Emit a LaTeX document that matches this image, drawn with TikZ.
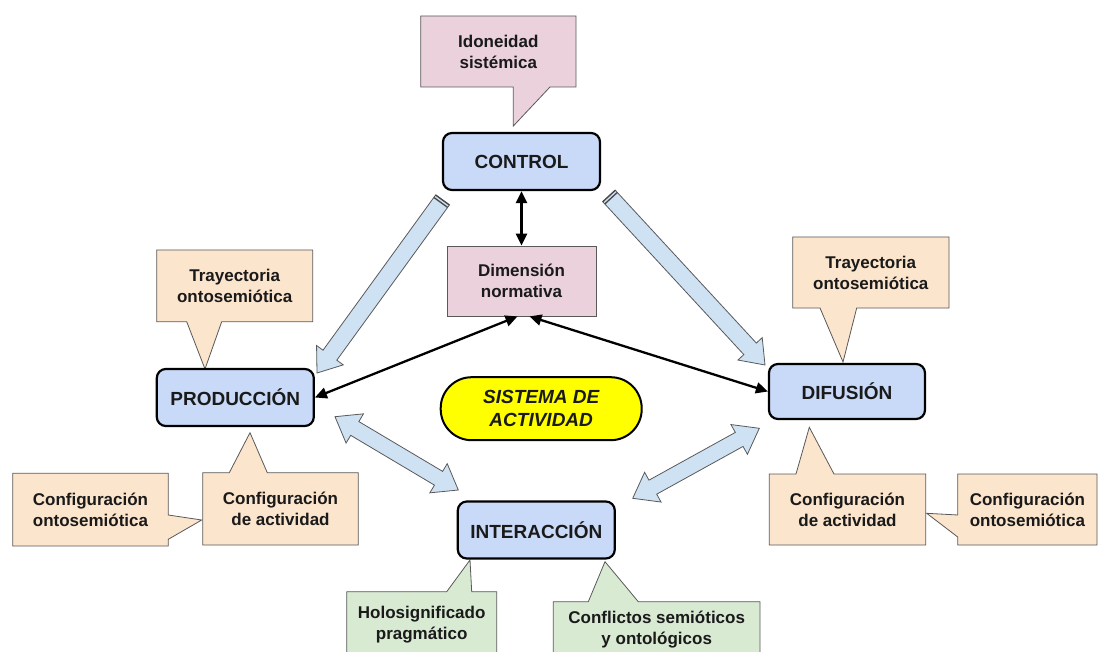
\documentclass[tikz,border=0pt]{standalone}
\usepackage{fontspec}
\setmainfont{Liberation Sans}
\usetikzlibrary{calc,arrows.meta}
\definecolor{boxblue}{HTML}{C9DAF8}
\definecolor{pinkbox}{HTML}{EAD1DC}
\definecolor{peach}{HTML}{FCE5CD}
\definecolor{greenbox}{HTML}{D9EAD3}
\definecolor{fatblue}{HTML}{CFE2F3}
\definecolor{cline}{HTML}{595959}
\definecolor{sysyellow}{HTML}{FFFF00}
\definecolor{txt}{HTML}{1A1A1A}
\newcommand\fatarrow[5]{%
  \path ($(#2)!#5!(#1)$) coordinate (fah);
  \draw[fatstyle] ($(#1)!#3!90:(#2)$) -- ($(fah)!#3!90:(#2)$) -- ($(fah)!#4!90:(#2)$) -- (#2)
     -- ($(fah)!#4!-90:(#2)$) -- ($(fah)!#3!-90:(#2)$) -- ($(#1)!#3!-90:(#2)$) -- cycle;
  \draw[stripe] ($(#1)!#3!90:(#2)$) -- ($(#1)!#3!-90:(#2)$);
  \draw[stripe] ($($(#1)!3pt!(#2)$)!#3!90:(#2)$) -- ($($(#1)!3pt!(#2)$)!#3!-90:(#2)$);
}
\newcommand\fatdarrow[5]{%
  \path ($(#1)!#5!(#2)$) coordinate (fha) ($(#2)!#5!(#1)$) coordinate (fhb);
  \draw[fatstyle] (#1) -- ($(fha)!#4!90:(#2)$) -- ($(fha)!#3!90:(#2)$) -- ($(fhb)!#3!90:(#2)$)
     -- ($(fhb)!#4!90:(#2)$) -- (#2) -- ($(fhb)!#4!-90:(#2)$) -- ($(fhb)!#3!-90:(#2)$)
     -- ($(fha)!#3!-90:(#2)$) -- ($(fha)!#4!-90:(#2)$) -- cycle;
}
\begin{document}
\begin{tikzpicture}[x=1pt,y=-1pt,
  mainbox/.style={draw=black, line width=2.2pt, rounded corners=9pt, fill=boxblue,
     font=\fontsize{19}{23}\selectfont\bfseries, text=txt, minimum width=157pt,
     minimum height=57pt, inner sep=0pt},
  callshape/.style={draw=cline, line width=0.8pt},
  ctext/.style={font=\fontsize{17}{21}\selectfont\bfseries, align=center, inner sep=0pt, text=txt},
  fatstyle/.style={fill=fatblue, draw=cline, line width=0.8pt, line join=miter},
  stripe/.style={draw=cline!80!black, line width=1.3pt},
  blackarrow/.style={line width=2.3pt, {Triangle[length=12pt,width=11pt]}-{Triangle[length=12pt,width=11pt]}}
]
\useasboundingbox (0,0) rectangle (1100,652);
\clip (0,0) rectangle (1100,652);
\fill[white] (0,0) rectangle (1100,652);

% callouts
\draw[callshape, fill=pinkbox] (420.7,16) -- (576,16) -- (576,87) -- (550,87) -- (513.3,126) -- (513.3,87) -- (420.7,87) -- cycle;
\node[ctext] (ido) at (498.3,52) {Idoneidad\\sistémica};

\draw[callshape, fill=peach] (156.7,250) -- (312.7,250) -- (312.7,321.7) -- (221.7,321.7) -- (205,369) -- (186.7,321.7) -- (156.7,321.7) -- cycle;
\node[ctext] (tray1) at (234.7,286) {Trayectoria\\ontosemiótica};

\draw[callshape, fill=peach] (792.7,237) -- (949,237) -- (949,308) -- (856.7,308) -- (843,362) -- (820,308) -- (792.7,308) -- cycle;
\node[ctext] (tray2) at (870.8,272.5) {Trayectoria\\ontosemiótica};

\draw[callshape, fill=peach] (12.7,473.3) -- (168.3,473.3) -- (168.3,515) -- (201.7,520) -- (168.3,539.3) -- (168.3,546) -- (12.7,546) -- cycle;
\node[ctext] (conf1) at (90.5,510) {Configuración\\ontosemiótica};

\draw[callshape, fill=peach] (202.7,545) -- (202.7,472.7) -- (229.3,472.7) -- (250,432.7) -- (267.3,472.7) -- (358.3,472.7) -- (358.3,545) -- cycle;
\node[ctext] (act1) at (280.5,509) {Configuración\\de actividad};

\draw[callshape, fill=peach] (769.3,545) -- (769.3,474) -- (796,474) -- (809.3,427.3) -- (834,474) -- (925.7,474) -- (925.7,545) -- cycle;
\node[ctext] (act2) at (847.5,509.5) {Configuración\\de actividad};

\draw[callshape, fill=peach] (957.7,474) -- (1097,474) -- (1097,545) -- (957.7,545) -- (957.7,537) -- (926.7,513.3) -- (957.7,515) -- cycle;
\node[ctext] (conf2) at (1027.4,509.5) {Configuración\\ontosemiótica};

\draw[callshape, fill=greenbox] (346.7,670) -- (346.7,591.7) -- (446.7,591.7) -- (470,560) -- (471.7,591.7) -- (496.7,591.7) -- (496.7,670) -- cycle;
\node[ctext] (holo) at (421.7,625) {Holosignificado\\pragmático};

\draw[callshape, fill=greenbox] (553.3,670) -- (553.3,601.7) -- (588.3,601.7) -- (605,561.7) -- (638.3,601.7) -- (760,601.7) -- (760,670) -- cycle;
\node[ctext] (conf3) at (656.7,630) {Conflictos semióticos\\y ontológicos};

% main nodes
\node[mainbox] (ctrl) at (521.5,161.5) {CONTROL};
\node[mainbox] (prod) at (235.3,397.5) {PRODUCCIÓN};
\node[mainbox, minimum width=156pt, minimum height=55pt] (dif) at (847,391.5) {DIFUSIÓN};
\node[mainbox] (inter) at (536.3,530) {INTERACCIÓN};
\node[callshape, fill=pinkbox, ctext, minimum width=149pt, minimum height=70pt] (dim) at (521.5,281) {Dimensión\\normativa};
\node[draw=black, line width=2pt, fill=sysyellow, rounded corners=31pt, minimum width=201pt,
      minimum height=63pt, inner sep=0pt, align=center, text=txt,
      font=\fontsize{19}{23}\selectfont\bfseries\itshape] (sys) at (541.2,408.7) {SISTEMA DE\\ACTIVIDAD};

% fat arrows
\coordinate (c1a) at (442.5,200);
\coordinate (c1b) at (317,373);
\coordinate (c2a) at (609,196);
\coordinate (c2b) at (765,365);
\coordinate (p1a) at (335,416.7);
\coordinate (p1b) at (458.3,490);
\coordinate (d1a) at (632.7,498.3);
\coordinate (d1b) at (759.3,428.3);
\fatarrow{c1a}{c1b}{8.5pt}{16.5pt}{22pt}
\fatarrow{c2a}{c2b}{8.5pt}{16.5pt}{22pt}
\fatdarrow{p1a}{p1b}{8pt}{17pt}{23pt}
\fatdarrow{d1a}{d1b}{8pt}{17pt}{23pt}

% black arrows
\draw[blackarrow] (ctrl.south) -- (dim.north);
\draw[blackarrow] ([xshift=-4pt]dim.south) -- (prod.east);
\draw[blackarrow] ([xshift=8pt]dim.south) -- (dif.west);
\end{tikzpicture}
\end{document}
